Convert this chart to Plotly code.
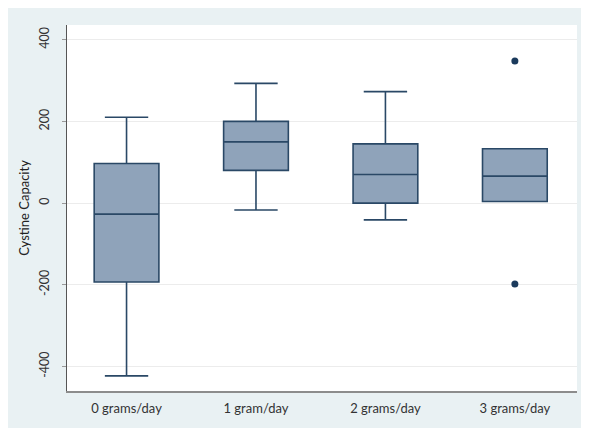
import plotly.graph_objects as go

categories = ["0 grams/day", "1 gram/day", "2 grams/day", "3 grams/day"]
lower_fence = [-423, -17, -41, 4]
q1 = [-193, 80, 0, 4]
median = [-27, 150, 70, 66]
q3 = [97, 200, 145, 133]
upper_fence = [210, 293, 273, 133]
outlier_x = ["3 grams/day", "3 grams/day"]
outlier_y = [348, -198]
y_ticks = [-400, -200, 0, 200, 400]

# page body has an 8px margin, so the figure is laid out relative to (8, 8)
W, H = 581, 420
ml, mr, mt, mb = 59, 12, 17, 33

fig = go.Figure()
fig.add_trace(go.Box(
    x=categories, q1=q1, median=median, q3=q3,
    lowerfence=lower_fence, upperfence=upper_fence,
    width=0.5, whiskerwidth=0.67,
    fillcolor="#8fa3ba", line=dict(color="#2a4866", width=1.6),
    boxpoints=False, hoverinfo="skip", showlegend=False,
))
fig.add_trace(go.Scatter(
    x=outlier_x, y=outlier_y, mode="markers",
    marker=dict(color="#1b3a5c", size=7), showlegend=False,
))

font_family = "Lato, 'Open Sans', sans-serif"
fig.update_layout(
    width=W, height=H,
    margin=dict(l=ml, r=mr, t=mt, b=mb, pad=0),
    paper_bgcolor="#e9f1f3",
    plot_bgcolor="white",
    font=dict(family=font_family, size=12, color="#333333"),
    xaxis=dict(
        type="category", categoryorder="array", categoryarray=categories,
        range=[-0.46, 3.48], showgrid=False, zeroline=False,
        showline=True, linecolor="#8c8c8c", linewidth=1.6,
        ticks="", tickfont=dict(size=13, color="#333333"), ticklabelstandoff=5,
    ),
    yaxis=dict(
        range=[-460, 436], tickvals=y_ticks, ticktext=[str(v) for v in y_ticks],
        tickangle=-90, showgrid=True, gridcolor="#ececec", gridwidth=1,
        zeroline=False, showline=True, linecolor="#555555", linewidth=1,
        ticks="outside", ticklen=4, tickcolor="#999999",
        tickfont=dict(size=12.5, color="#333333"), ticklabelstandoff=8,
        title=dict(text="Cystine Capacity", font=dict(size=13, color="#222222"), standoff=4),
    ),
)

fig.write_html("out.html")
